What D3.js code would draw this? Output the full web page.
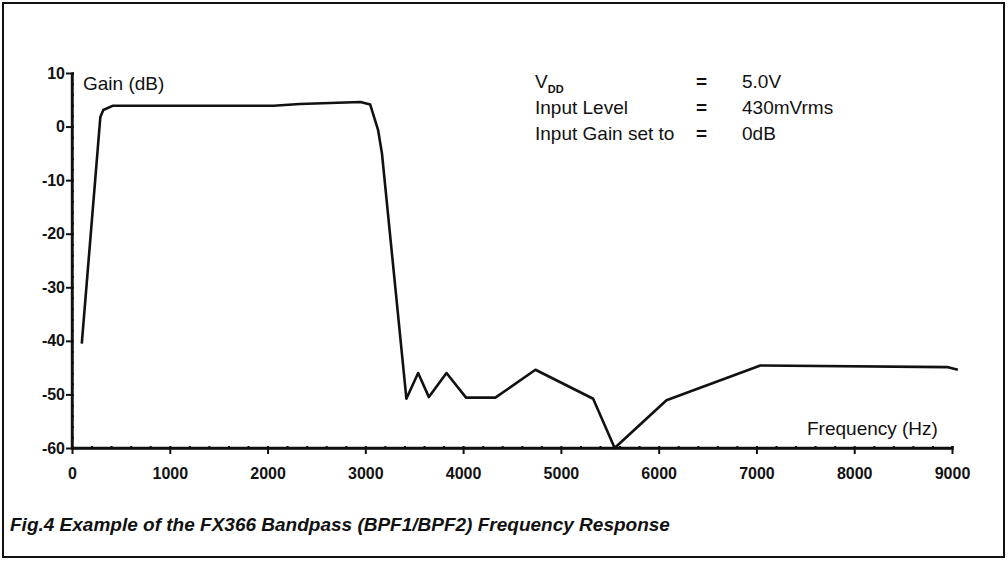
<!DOCTYPE html>
<html lang="en">
  <head>
    <meta charset="UTF-8" />
    <title>FX366 Bandpass Frequency Response</title>
    <script src="https://d3js.org/d3.v7.min.js"></script>
    <style>
      body { margin: 0; background: #fff; }
      text { font-family: 'Liberation Sans', Arial, sans-serif; fill: #111; }
    </style>
  </head>
  <body>
    <svg width="1008" height="563"></svg>

    <script>
      // Data
      const freqHz = [100, 290, 320, 420, 2060, 2330, 2950, 3050, 3130, 3170, 3420, 3540, 3650, 3830, 4030, 4330, 4740, 5330, 5550, 6080, 7040, 8950, 9060];
      const gainDb = [-40.5, 1.8, 3.1, 3.9, 3.9, 4.2, 4.6, 4.1, -0.6, -5, -50.8, -46, -50.5, -46, -50.6, -50.6, -45.4, -50.8, -60, -51.1, -44.6, -44.9, -45.4];

      const xTicks = [0, 1000, 2000, 3000, 4000, 5000, 6000, 7000, 8000, 9000];
      const yTicks = [10, 0, -10, -20, -30, -40, -50, -60];
      const xMinor = d3.range(0, 9001, 200);
      const yMinor = d3.range(-60, 10.1, 2);

      const conditions = [
        { name: 'V', sub: 'DD', value: '5.0V' },
        { name: 'Input Level', sub: '', value: '430mVrms' },
        { name: 'Input Gain set to', sub: '', value: '0dB' },
      ];
      const caption = 'Fig.4 Example of the FX366 Bandpass (BPF1/BPF2) Frequency Response';

      const svg = d3.select('svg');

      // outer frame
      svg.append('rect')
        .attr('x', 3).attr('y', 3)
        .attr('width', 1001).attr('height', 554)
        .attr('fill', 'none').attr('stroke', '#111').attr('stroke-width', 2);

      const x = d3.scaleLinear().domain([0, 9000]).range([72, 952]);
      const y = d3.scaleLinear().domain([-60, 10]).range([448, 73]);

      const fmt = (d) => String(d); // plain hyphen, like the original

      // y axis: majors out to the left, minors as little dots inside
      const yAxis = svg.append('g')
        .attr('transform', `translate(${x(0)},0)`)
        .call(d3.axisLeft(y).tickValues(yTicks).tickSize(6).tickPadding(1).tickFormat(fmt));
      svg.append('g')
        .attr('transform', `translate(${x(0)},0)`)
        .call(d3.axisRight(y).tickValues(yMinor).tickSize(2).tickFormat(''));

      // x axis: majors hang below, minors poke up
      const xAxis = svg.append('g')
        .attr('transform', `translate(0,${y(-60)})`)
        .call(d3.axisBottom(x).tickValues(xTicks).tickSize(6).tickPadding(14).tickFormat(fmt));
      svg.append('g')
        .attr('transform', `translate(0,${y(-60)})`)
        .call(d3.axisTop(x).tickValues(xMinor).tickSize(2).tickFormat(''));

      svg.selectAll('.domain').attr('stroke', '#111').attr('stroke-width', 2.4);
      svg.selectAll('.tick line').attr('stroke', '#111').attr('stroke-width', 2);
      svg.selectAll('.tick text')
        .attr('fill', '#111')
        .style('font-family', "'Liberation Sans', Arial, sans-serif")
        .style('font-size', '16px')
        .style('font-weight', 'bold');
      // drop the end caps d3 adds on the domain path
      yAxis.select('.domain').attr('d', `M0,${y(10)}V${y(-60)}`);
      xAxis.select('.domain').attr('d', `M${x(0)},0H${x(9000)}`);

      // response curve
      const points = freqHz.map((f, i) => [f, gainDb[i]]);
      svg.append('path')
        .datum(points)
        .attr('fill', 'none')
        .attr('stroke', '#111')
        .attr('stroke-width', 2.6)
        .attr('stroke-linejoin', 'round')
        .attr('d', d3.line().x((d) => x(d[0])).y((d) => y(d[1])));

      // axis titles
      svg.append('text')
        .attr('x', 83).attr('y', 90)
        .style('font-size', '19px')
        .text('Gain (dB)');
      svg.append('text')
        .attr('x', 807).attr('y', 435)
        .style('font-size', '19px')
        .text('Frequency (Hz)');

      // test conditions block
      const cond = svg.append('g').style('font-size', '19px');
      conditions.forEach((c, i) => {
        const yy = 88 + i * 26;
        const t = cond.append('text').attr('x', 535).attr('y', yy).text(c.name);
        if (c.sub) {
          t.append('tspan').attr('dy', 5).style('font-size', '11px').style('font-weight', 'bold').text(c.sub);
        }
        cond.append('text').attr('x', 696).attr('y', yy).style('font-weight', 'bold').text('=');
        cond.append('text').attr('x', 742).attr('y', yy).text(c.value);
      });

      // figure caption
      svg.append('text')
        .attr('x', 10).attr('y', 531)
        .style('font-size', '19px')
        .style('font-style', 'italic')
        .style('font-weight', 'bold')
        .text(caption);
    </script>
  </body>
</html>
